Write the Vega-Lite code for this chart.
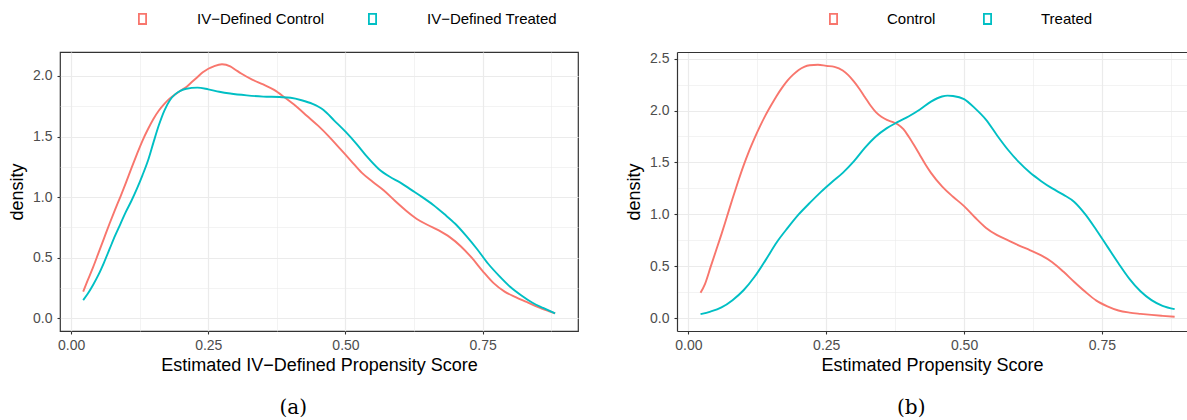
{
  "$schema": "https://vega.github.io/schema/vega-lite/v6.json",
  "background": "white",
  "padding": {"left": 7, "top": 10, "right": 0, "bottom": 0},
  "spacing": 46,
  "datasets": {
    "a": [
      {"group": "IV−Defined Control", "score": 0.022, "density": 0.22},
      {"group": "IV−Defined Control", "score": 0.03, "density": 0.31},
      {"group": "IV−Defined Control", "score": 0.04, "density": 0.42},
      {"group": "IV−Defined Control", "score": 0.05, "density": 0.54},
      {"group": "IV−Defined Control", "score": 0.06, "density": 0.66},
      {"group": "IV−Defined Control", "score": 0.07, "density": 0.78},
      {"group": "IV−Defined Control", "score": 0.08, "density": 0.895},
      {"group": "IV−Defined Control", "score": 0.09, "density": 1.005},
      {"group": "IV−Defined Control", "score": 0.1, "density": 1.12},
      {"group": "IV−Defined Control", "score": 0.11, "density": 1.24},
      {"group": "IV−Defined Control", "score": 0.12, "density": 1.355},
      {"group": "IV−Defined Control", "score": 0.13, "density": 1.465},
      {"group": "IV−Defined Control", "score": 0.14, "density": 1.56},
      {"group": "IV−Defined Control", "score": 0.15, "density": 1.645},
      {"group": "IV−Defined Control", "score": 0.16, "density": 1.715},
      {"group": "IV−Defined Control", "score": 0.17, "density": 1.77},
      {"group": "IV−Defined Control", "score": 0.18, "density": 1.815},
      {"group": "IV−Defined Control", "score": 0.19, "density": 1.85},
      {"group": "IV−Defined Control", "score": 0.2, "density": 1.88},
      {"group": "IV−Defined Control", "score": 0.21, "density": 1.91},
      {"group": "IV−Defined Control", "score": 0.22, "density": 1.95},
      {"group": "IV−Defined Control", "score": 0.23, "density": 1.99},
      {"group": "IV−Defined Control", "score": 0.24, "density": 2.03},
      {"group": "IV−Defined Control", "score": 0.25, "density": 2.06},
      {"group": "IV−Defined Control", "score": 0.26, "density": 2.08},
      {"group": "IV−Defined Control", "score": 0.275, "density": 2.097},
      {"group": "IV−Defined Control", "score": 0.29, "density": 2.08},
      {"group": "IV−Defined Control", "score": 0.3, "density": 2.05},
      {"group": "IV−Defined Control", "score": 0.31, "density": 2.02},
      {"group": "IV−Defined Control", "score": 0.33, "density": 1.97},
      {"group": "IV−Defined Control", "score": 0.35, "density": 1.93},
      {"group": "IV−Defined Control", "score": 0.37, "density": 1.885},
      {"group": "IV−Defined Control", "score": 0.39, "density": 1.82},
      {"group": "IV−Defined Control", "score": 0.41, "density": 1.75},
      {"group": "IV−Defined Control", "score": 0.43, "density": 1.67},
      {"group": "IV−Defined Control", "score": 0.45, "density": 1.59},
      {"group": "IV−Defined Control", "score": 0.47, "density": 1.5},
      {"group": "IV−Defined Control", "score": 0.49, "density": 1.4},
      {"group": "IV−Defined Control", "score": 0.51, "density": 1.3},
      {"group": "IV−Defined Control", "score": 0.53, "density": 1.2},
      {"group": "IV−Defined Control", "score": 0.55, "density": 1.125},
      {"group": "IV−Defined Control", "score": 0.57, "density": 1.055},
      {"group": "IV−Defined Control", "score": 0.59, "density": 0.97},
      {"group": "IV−Defined Control", "score": 0.61, "density": 0.89},
      {"group": "IV−Defined Control", "score": 0.63, "density": 0.82},
      {"group": "IV−Defined Control", "score": 0.65, "density": 0.77},
      {"group": "IV−Defined Control", "score": 0.67, "density": 0.725},
      {"group": "IV−Defined Control", "score": 0.69, "density": 0.67},
      {"group": "IV−Defined Control", "score": 0.71, "density": 0.595},
      {"group": "IV−Defined Control", "score": 0.73, "density": 0.5},
      {"group": "IV−Defined Control", "score": 0.75, "density": 0.39},
      {"group": "IV−Defined Control", "score": 0.77, "density": 0.29},
      {"group": "IV−Defined Control", "score": 0.79, "density": 0.22},
      {"group": "IV−Defined Control", "score": 0.81, "density": 0.175},
      {"group": "IV−Defined Control", "score": 0.83, "density": 0.135},
      {"group": "IV−Defined Control", "score": 0.85, "density": 0.095},
      {"group": "IV−Defined Control", "score": 0.87, "density": 0.06},
      {"group": "IV−Defined Control", "score": 0.882, "density": 0.04},
      {"group": "IV−Defined Treated", "score": 0.022, "density": 0.15},
      {"group": "IV−Defined Treated", "score": 0.03, "density": 0.2},
      {"group": "IV−Defined Treated", "score": 0.04, "density": 0.275},
      {"group": "IV−Defined Treated", "score": 0.05, "density": 0.36},
      {"group": "IV−Defined Treated", "score": 0.06, "density": 0.46},
      {"group": "IV−Defined Treated", "score": 0.07, "density": 0.57},
      {"group": "IV−Defined Treated", "score": 0.08, "density": 0.68},
      {"group": "IV−Defined Treated", "score": 0.09, "density": 0.78},
      {"group": "IV−Defined Treated", "score": 0.1, "density": 0.88},
      {"group": "IV−Defined Treated", "score": 0.11, "density": 0.97},
      {"group": "IV−Defined Treated", "score": 0.12, "density": 1.07},
      {"group": "IV−Defined Treated", "score": 0.13, "density": 1.18},
      {"group": "IV−Defined Treated", "score": 0.14, "density": 1.3},
      {"group": "IV−Defined Treated", "score": 0.15, "density": 1.45},
      {"group": "IV−Defined Treated", "score": 0.16, "density": 1.595},
      {"group": "IV−Defined Treated", "score": 0.17, "density": 1.715},
      {"group": "IV−Defined Treated", "score": 0.18, "density": 1.8},
      {"group": "IV−Defined Treated", "score": 0.19, "density": 1.85},
      {"group": "IV−Defined Treated", "score": 0.2, "density": 1.88},
      {"group": "IV−Defined Treated", "score": 0.21, "density": 1.895},
      {"group": "IV−Defined Treated", "score": 0.23, "density": 1.904},
      {"group": "IV−Defined Treated", "score": 0.25, "density": 1.89},
      {"group": "IV−Defined Treated", "score": 0.27, "density": 1.87},
      {"group": "IV−Defined Treated", "score": 0.29, "density": 1.855},
      {"group": "IV−Defined Treated", "score": 0.32, "density": 1.84},
      {"group": "IV−Defined Treated", "score": 0.35, "density": 1.83},
      {"group": "IV−Defined Treated", "score": 0.38, "density": 1.826},
      {"group": "IV−Defined Treated", "score": 0.4, "density": 1.82},
      {"group": "IV−Defined Treated", "score": 0.42, "density": 1.8},
      {"group": "IV−Defined Treated", "score": 0.44, "density": 1.77},
      {"group": "IV−Defined Treated", "score": 0.46, "density": 1.72},
      {"group": "IV−Defined Treated", "score": 0.48, "density": 1.63},
      {"group": "IV−Defined Treated", "score": 0.5, "density": 1.54},
      {"group": "IV−Defined Treated", "score": 0.52, "density": 1.44},
      {"group": "IV−Defined Treated", "score": 0.54, "density": 1.33},
      {"group": "IV−Defined Treated", "score": 0.56, "density": 1.235},
      {"group": "IV−Defined Treated", "score": 0.58, "density": 1.17},
      {"group": "IV−Defined Treated", "score": 0.6, "density": 1.12},
      {"group": "IV−Defined Treated", "score": 0.62, "density": 1.06},
      {"group": "IV−Defined Treated", "score": 0.64, "density": 1.0},
      {"group": "IV−Defined Treated", "score": 0.66, "density": 0.935},
      {"group": "IV−Defined Treated", "score": 0.68, "density": 0.86},
      {"group": "IV−Defined Treated", "score": 0.7, "density": 0.78},
      {"group": "IV−Defined Treated", "score": 0.72, "density": 0.68},
      {"group": "IV−Defined Treated", "score": 0.74, "density": 0.57},
      {"group": "IV−Defined Treated", "score": 0.76, "density": 0.45},
      {"group": "IV−Defined Treated", "score": 0.78, "density": 0.35},
      {"group": "IV−Defined Treated", "score": 0.8, "density": 0.26},
      {"group": "IV−Defined Treated", "score": 0.82, "density": 0.19},
      {"group": "IV−Defined Treated", "score": 0.84, "density": 0.13},
      {"group": "IV−Defined Treated", "score": 0.86, "density": 0.085},
      {"group": "IV−Defined Treated", "score": 0.882, "density": 0.04}
    ],
    "b": [
      {"group": "Control", "score": 0.022, "density": 0.246},
      {"group": "Control", "score": 0.03, "density": 0.33},
      {"group": "Control", "score": 0.04, "density": 0.49},
      {"group": "Control", "score": 0.05, "density": 0.65},
      {"group": "Control", "score": 0.06, "density": 0.81},
      {"group": "Control", "score": 0.07, "density": 0.98},
      {"group": "Control", "score": 0.08, "density": 1.15},
      {"group": "Control", "score": 0.09, "density": 1.315},
      {"group": "Control", "score": 0.1, "density": 1.47},
      {"group": "Control", "score": 0.11, "density": 1.61},
      {"group": "Control", "score": 0.12, "density": 1.735},
      {"group": "Control", "score": 0.13, "density": 1.85},
      {"group": "Control", "score": 0.14, "density": 1.955},
      {"group": "Control", "score": 0.15, "density": 2.05},
      {"group": "Control", "score": 0.16, "density": 2.14},
      {"group": "Control", "score": 0.17, "density": 2.22},
      {"group": "Control", "score": 0.18, "density": 2.29},
      {"group": "Control", "score": 0.19, "density": 2.345},
      {"group": "Control", "score": 0.2, "density": 2.39},
      {"group": "Control", "score": 0.21, "density": 2.42},
      {"group": "Control", "score": 0.22, "density": 2.435},
      {"group": "Control", "score": 0.235, "density": 2.44},
      {"group": "Control", "score": 0.25, "density": 2.43},
      {"group": "Control", "score": 0.265, "density": 2.42},
      {"group": "Control", "score": 0.28, "density": 2.385},
      {"group": "Control", "score": 0.29, "density": 2.34},
      {"group": "Control", "score": 0.3, "density": 2.28},
      {"group": "Control", "score": 0.31, "density": 2.21},
      {"group": "Control", "score": 0.32, "density": 2.13},
      {"group": "Control", "score": 0.33, "density": 2.05},
      {"group": "Control", "score": 0.34, "density": 1.985},
      {"group": "Control", "score": 0.35, "density": 1.94},
      {"group": "Control", "score": 0.36, "density": 1.91},
      {"group": "Control", "score": 0.37, "density": 1.89},
      {"group": "Control", "score": 0.38, "density": 1.865},
      {"group": "Control", "score": 0.39, "density": 1.82},
      {"group": "Control", "score": 0.4, "density": 1.745},
      {"group": "Control", "score": 0.41, "density": 1.66},
      {"group": "Control", "score": 0.42, "density": 1.57},
      {"group": "Control", "score": 0.43, "density": 1.48},
      {"group": "Control", "score": 0.44, "density": 1.4},
      {"group": "Control", "score": 0.46, "density": 1.27},
      {"group": "Control", "score": 0.48, "density": 1.17},
      {"group": "Control", "score": 0.5, "density": 1.08},
      {"group": "Control", "score": 0.52, "density": 0.97},
      {"group": "Control", "score": 0.54, "density": 0.87},
      {"group": "Control", "score": 0.56, "density": 0.8},
      {"group": "Control", "score": 0.58, "density": 0.75},
      {"group": "Control", "score": 0.6, "density": 0.7},
      {"group": "Control", "score": 0.62, "density": 0.655},
      {"group": "Control", "score": 0.64, "density": 0.605},
      {"group": "Control", "score": 0.66, "density": 0.54},
      {"group": "Control", "score": 0.68, "density": 0.45},
      {"group": "Control", "score": 0.7, "density": 0.35},
      {"group": "Control", "score": 0.72, "density": 0.255},
      {"group": "Control", "score": 0.74, "density": 0.17},
      {"group": "Control", "score": 0.76, "density": 0.115},
      {"group": "Control", "score": 0.78, "density": 0.075},
      {"group": "Control", "score": 0.8, "density": 0.055},
      {"group": "Control", "score": 0.82, "density": 0.043},
      {"group": "Control", "score": 0.84, "density": 0.033},
      {"group": "Control", "score": 0.86, "density": 0.024},
      {"group": "Control", "score": 0.882, "density": 0.015},
      {"group": "Treated", "score": 0.022, "density": 0.041},
      {"group": "Treated", "score": 0.04, "density": 0.065},
      {"group": "Treated", "score": 0.06, "density": 0.105},
      {"group": "Treated", "score": 0.08, "density": 0.175},
      {"group": "Treated", "score": 0.1, "density": 0.27},
      {"group": "Treated", "score": 0.12, "density": 0.4},
      {"group": "Treated", "score": 0.14, "density": 0.56},
      {"group": "Treated", "score": 0.16, "density": 0.73},
      {"group": "Treated", "score": 0.18, "density": 0.87},
      {"group": "Treated", "score": 0.2, "density": 1.0},
      {"group": "Treated", "score": 0.22, "density": 1.11},
      {"group": "Treated", "score": 0.24, "density": 1.215},
      {"group": "Treated", "score": 0.26, "density": 1.31},
      {"group": "Treated", "score": 0.28, "density": 1.4},
      {"group": "Treated", "score": 0.3, "density": 1.51},
      {"group": "Treated", "score": 0.32, "density": 1.64},
      {"group": "Treated", "score": 0.34, "density": 1.75},
      {"group": "Treated", "score": 0.36, "density": 1.83},
      {"group": "Treated", "score": 0.38, "density": 1.89},
      {"group": "Treated", "score": 0.4, "density": 1.945},
      {"group": "Treated", "score": 0.42, "density": 2.01},
      {"group": "Treated", "score": 0.44, "density": 2.085},
      {"group": "Treated", "score": 0.46, "density": 2.135},
      {"group": "Treated", "score": 0.47, "density": 2.143},
      {"group": "Treated", "score": 0.48, "density": 2.14},
      {"group": "Treated", "score": 0.5, "density": 2.11},
      {"group": "Treated", "score": 0.52, "density": 2.02},
      {"group": "Treated", "score": 0.54, "density": 1.91},
      {"group": "Treated", "score": 0.56, "density": 1.76},
      {"group": "Treated", "score": 0.58, "density": 1.62},
      {"group": "Treated", "score": 0.6, "density": 1.5},
      {"group": "Treated", "score": 0.62, "density": 1.4},
      {"group": "Treated", "score": 0.64, "density": 1.32},
      {"group": "Treated", "score": 0.66, "density": 1.25},
      {"group": "Treated", "score": 0.68, "density": 1.19},
      {"group": "Treated", "score": 0.7, "density": 1.12},
      {"group": "Treated", "score": 0.72, "density": 1.0},
      {"group": "Treated", "score": 0.74, "density": 0.85},
      {"group": "Treated", "score": 0.76, "density": 0.69},
      {"group": "Treated", "score": 0.78, "density": 0.53},
      {"group": "Treated", "score": 0.8, "density": 0.38},
      {"group": "Treated", "score": 0.82, "density": 0.26},
      {"group": "Treated", "score": 0.84, "density": 0.175},
      {"group": "Treated", "score": 0.86, "density": 0.12},
      {"group": "Treated", "score": 0.882, "density": 0.088}
    ]
  },
  "hconcat": [
    {
      "width": 518,
      "height": 279,
      "data": {"name": "a"},
      "title": {"text": "(a)", "orient": "bottom", "font": "DejaVu Serif", "fontSize": 20, "fontWeight": "normal", "color": "#000000", "anchor": "middle", "frame": "bounds", "offset": 24},
      "mark": {"type": "line", "interpolate": "monotone", "strokeWidth": 1.9},
      "encoding": {
        "x": {"field": "score", "type": "quantitative", "title": "Estimated IV−Defined Propensity Score",
          "scale": {"domain": [-0.0202, 0.9237], "nice": false, "zero": false},
          "axis": {"values": [0, 0.125, 0.25, 0.375, 0.5, 0.625, 0.75, 0.875],
            "labelExpr": "datum.value % 0.25 === 0 ? format(datum.value, '.2f') : ''",
            "tickOpacity": {"condition": {"test": "datum.value % 0.25 !== 0", "value": 0}, "value": 1},
            "gridWidth": {"condition": {"test": "datum.value % 0.25 !== 0", "value": 0.6}, "value": 1.2},
            "labelPadding": 4, "titlePadding": 4}},
        "y": {"field": "density", "type": "quantitative", "title": "density",
          "scale": {"domain": [-0.105, 2.198], "nice": false, "zero": false},
          "axis": {"values": [0, 0.25, 0.5, 0.75, 1, 1.25, 1.5, 1.75, 2],
            "labelExpr": "datum.value % 0.5 === 0 ? format(datum.value, '.1f') : ''",
            "tickOpacity": {"condition": {"test": "datum.value % 0.5 !== 0", "value": 0}, "value": 1},
            "gridWidth": {"condition": {"test": "datum.value % 0.5 !== 0", "value": 0.6}, "value": 1.2},
            "labelPadding": 5, "titlePadding": 6}},
        "color": {"field": "group", "type": "nominal",
          "scale": {"domain": ["IV−Defined Control", "IV−Defined Treated"], "range": ["#F8766D", "#00BFC4"]},
          "legend": {"orient": "none", "legendX": 75, "legendY": -41, "direction": "horizontal", "title": null,
            "labelOffset": 47, "columnPadding": 40}}
      }
    },
    {
      "width": 510,
      "height": 279,
      "data": {"name": "b"},
      "view": {"stroke": null},
      "title": {"text": "(b)", "orient": "bottom", "font": "DejaVu Serif", "fontSize": 20, "fontWeight": "normal", "color": "#000000", "anchor": "middle", "frame": "bounds", "offset": 24, "dx": 5},
      "encoding": {
        "y": {"field": "density", "type": "quantitative", "title": "density",
          "scale": {"domain": [-0.122, 2.563], "nice": false, "zero": false},
          "axis": {"values": [0, 0.25, 0.5, 0.75, 1, 1.25, 1.5, 1.75, 2, 2.25, 2.5],
            "domain": true,
            "labelExpr": "datum.value % 0.5 === 0 ? format(datum.value, '.1f') : ''",
            "tickOpacity": {"condition": {"test": "datum.value % 0.5 !== 0", "value": 0}, "value": 1},
            "gridWidth": {"condition": {"test": "datum.value % 0.5 !== 0", "value": 0.6}, "value": 1.2},
            "labelPadding": 5, "titlePadding": 6}},
        "color": {"field": "group", "type": "nominal",
          "scale": {"domain": ["Control", "Treated"], "range": ["#F8766D", "#00BFC4"]},
          "legend": {"orient": "none", "legendX": 149, "legendY": -41, "direction": "horizontal", "title": null,
            "labelOffset": 46, "columnPadding": 44}}
      },
      "layer": [
        {
          "mark": {"type": "line", "interpolate": "monotone", "strokeWidth": 1.9},
          "encoding": {
            "x": {"field": "score", "type": "quantitative", "title": "Estimated Propensity Score",
              "scale": {"domain": [-0.0207, 0.9044], "nice": false, "zero": false},
              "axis": {"values": [0, 0.125, 0.25, 0.375, 0.5, 0.625, 0.75, 0.875],
                "domain": true,
                "labelExpr": "datum.value % 0.25 === 0 ? format(datum.value, '.2f') : ''",
                "tickOpacity": {"condition": {"test": "datum.value % 0.25 !== 0", "value": 0}, "value": 1},
                "gridWidth": {"condition": {"test": "datum.value % 0.25 !== 0", "value": 0.6}, "value": 1.2},
                "labelPadding": 4, "titlePadding": 4}}
          }
        },
        {
          "mark": {"type": "line", "interpolate": "monotone", "opacity": 0},
          "encoding": {
            "x": {"field": "score", "type": "quantitative",
              "axis": {"orient": "top", "domain": true, "labels": false, "ticks": false, "grid": false, "title": null}}
          }
        }
      ],
      "resolve": {"axis": {"x": "independent"}}
    }
  ],
  "resolve": {"scale": {"color": "independent", "x": "independent", "y": "independent"}},
  "config": {
    "font": "Liberation Sans",
    "view": {"stroke": "#333333", "strokeWidth": 1.2},
    "axis": {"domain": false, "domainColor": "#333333", "domainWidth": 1.2,
      "labelFont": "Liberation Sans", "labelFontSize": 14, "labelColor": "#4d4d4d",
      "tickColor": "#333333", "tickSize": 3, "tickWidth": 1.1,
      "titleFont": "Liberation Sans", "titleFontSize": 18, "titleFontWeight": "normal", "titleColor": "#000000",
      "gridColor": "#ebebeb", "labelOverlap": false, "labelFlush": false},
    "legend": {"symbolType": "M-0.6,-0.85H0.6V0.85H-0.6Z", "symbolSize": 144, "symbolStrokeWidth": 1.8,
      "symbolFillColor": "white", "labelFont": "Liberation Sans", "labelFontSize": 15, "labelColor": "#000000", "padding": 0},
    "title": {"font": "DejaVu Serif"}
  }
}
